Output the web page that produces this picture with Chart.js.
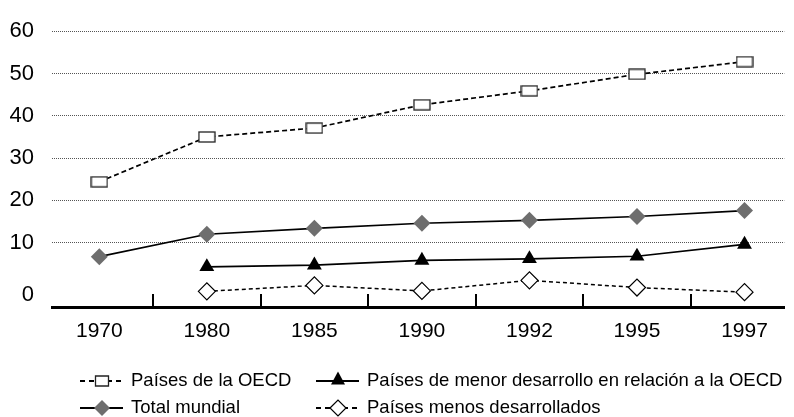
<!DOCTYPE html>
<html>
<head>
<meta charset="utf-8">
<script src="https://cdn.jsdelivr.net/npm/chart.js@4"></script>
<style>
  html, body { margin: 0; padding: 0; background: #fff; }
</style>
</head>
<body>
<canvas id="line-chart" width="794" height="417"></canvas>
<script>
// data
const years = ['1970', '1980', '1985', '1990', '1992', '1995', '1997'];
const oecd = [24.4, 35.0, 37.1, 42.6, 45.9, 49.8, 52.8];
const menorDesarrollo = [null, 4.3, 4.7, 5.8, 6.2, 6.8, 9.6];
const totalMundial = [6.7, 12.0, 13.4, 14.6, 15.3, 16.2, 17.6];
const menosDesarrollados = [null, -1.5, -0.1, -1.4, 1.1, -0.6, -1.7];
const yTicks = [0, 10, 20, 30, 40, 50, 60];
const seriesNames = [
  'Países de la OECD',
  'Países de menor desarrollo en relación a la OECD',
  'Total mundial',
  'Países menos desarrollados'
];

const FONT = '"Liberation Sans", Arial, Helvetica, sans-serif';
const GREY = '#6e6e6e';

function toPoints(arr) {
  return arr.map(function(v, i) { return { x: i, y: v }; });
}

// wide white box used as the OECD marker
function boxMarker() {
  const c = document.createElement('canvas');
  c.width = 18; c.height = 12;
  const g = c.getContext('2d');
  g.fillStyle = '#fff';
  g.fillRect(1, 1, 16, 10);
  g.strokeStyle = '#222';
  g.lineWidth = 1.3;
  g.strokeRect(1, 1, 16, 10);
  return c;
}

function drawMarker(g, kind, x, y) {
  g.save();
  g.setLineDash([]);
  g.beginPath();
  if (kind === 'box') {
    g.rect(x - 6.5, y - 5, 13, 10);
    g.fillStyle = '#fff'; g.fill();
    g.strokeStyle = '#222'; g.lineWidth = 1.3; g.stroke();
  } else if (kind === 'tri') {
    g.moveTo(x, y - 9.5); g.lineTo(x + 7, y + 3.5); g.lineTo(x - 7, y + 3.5); g.closePath();
    g.fillStyle = '#000'; g.fill();
  } else {
    g.moveTo(x - 8, y); g.lineTo(x, y - 8); g.lineTo(x + 8, y); g.lineTo(x, y + 8); g.closePath();
    if (kind === 'diamond') { g.fillStyle = GREY; g.fill(); }
    else { g.fillStyle = '#fff'; g.fill(); g.strokeStyle = '#000'; g.lineWidth = 1.2; g.stroke(); }
  }
  g.restore();
}

// two-row legend under the axis
const rowLegend = {
  id: 'rowLegend',
  afterDraw(chart) {
    const g = chart.ctx;
    const spots = [[80, 381], [316, 381], [80, 408], [316, 408]];
    const kinds = ['box', 'tri', 'diamond', 'hollow'];
    chart.data.datasets.forEach(function(ds, i) {
      const x = spots[i][0], y = spots[i][1];
      g.save();
      g.strokeStyle = '#000';
      g.lineWidth = 2;
      g.setLineDash(ds.borderDash && ds.borderDash.length ? [5, 4] : []);
      g.beginPath();
      g.moveTo(x, y); g.lineTo(x + 43, y);
      g.stroke();
      g.restore();
      drawMarker(g, kinds[i], x + 22, y);
      g.save();
      g.fillStyle = '#000';
      g.font = '18.5px ' + FONT;
      g.textBaseline = 'middle';
      g.fillText(ds.label, x + 51, y);
      g.restore();
    });
  }
};

var ctx = document.getElementById('line-chart');
var chart = new Chart(ctx, {
  type: 'line',
  data: {
    datasets: [{
      label: seriesNames[0],
      data: toPoints(oecd),
      borderColor: '#000',
      borderWidth: 1.7,
      borderDash: [5, 3],
      pointStyle: boxMarker(),
      pointRadius: 8
    }, {
      label: seriesNames[1],
      data: toPoints(menorDesarrollo),
      borderColor: '#000',
      borderWidth: 1.7,
      pointStyle: 'triangle',
      pointRadius: 8.6,
      pointBackgroundColor: '#000',
      pointBorderColor: '#000',
      pointBorderWidth: 0
    }, {
      label: seriesNames[2],
      data: toPoints(totalMundial),
      borderColor: '#000',
      borderWidth: 1.7,
      pointStyle: 'rectRot',
      pointRadius: 8.5,
      pointBackgroundColor: GREY,
      pointBorderColor: GREY,
      pointBorderWidth: 0
    }, {
      label: seriesNames[3],
      data: toPoints(menosDesarrollados),
      borderColor: '#000',
      borderWidth: 1.5,
      borderDash: [4, 3],
      pointStyle: 'rectRot',
      pointRadius: 8.5,
      pointBackgroundColor: '#fff',
      pointBorderColor: '#000',
      pointBorderWidth: 1.2
    }]
  },
  options: {
    responsive: false,
    animation: false,
    devicePixelRatio: 1,
    layout: { padding: { top: 20, right: 0, bottom: 0, left: 0 } },
    plugins: {
      legend: { display: false },
      tooltip: { enabled: false }
    },
    scales: {
      x: {
        type: 'linear',
        min: -0.44,
        max: 6.37,
        afterBuildTicks: function(scale) {
          scale.ticks = years.map(function(_, i) { return { value: i }; });
        },
        afterFit: function(scale) { scale.height = 110; },
        ticks: {
          callback: function(v) { return years[v]; },
          autoSkip: false,
          maxRotation: 0,
          padding: 25,
          color: '#000',
          font: { family: FONT, size: 21 }
        },
        grid: {
          offset: true,
          drawOnChartArea: false,
          drawTicks: true,
          tickLength: -13,
          color: '#000',
          lineWidth: 2
        },
        border: { display: true, color: '#000', width: 3 }
      },
      y: {
        min: -5.2,
        max: 60,
        afterBuildTicks: function(scale) {
          // the reference prints its "0" a little below the zero level
          scale.ticks = yTicks.map(function(v) { return { value: v === 0 ? -2.4 : v }; });
        },
        afterFit: function(scale) { scale.width = 52; },
        ticks: {
          callback: function(v) { return v < 5 ? '0' : String(v); },
          padding: 18,
          color: '#000',
          font: { family: FONT, size: 22 }
        },
        grid: {
          drawTicks: false,
          lineWidth: 1,
          color: function(c) { return c.tick && c.tick.value > 5 ? '#555' : 'rgba(0,0,0,0)'; }
        },
        border: { display: false, dash: [1, 1] }
      }
    }
  },
  plugins: [rowLegend]
});
</script>
</body>
</html>
